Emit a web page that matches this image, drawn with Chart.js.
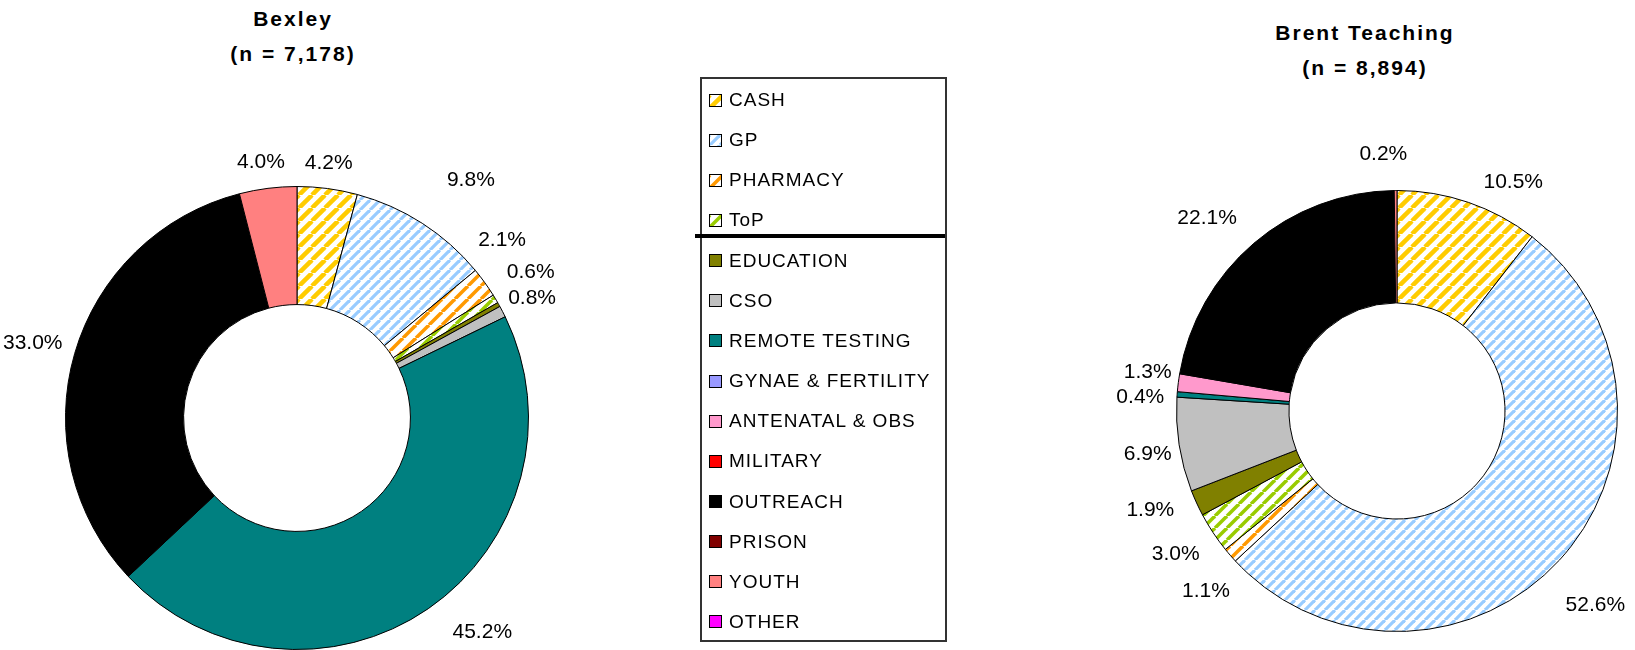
<!DOCTYPE html>
<html>
<head>
<meta charset="utf-8">
<script src="https://cdn.jsdelivr.net/npm/chart.js@4.4.1/dist/chart.umd.min.js"></script>
<style>
  body { margin: 0; background: #fff; width: 1635px; height: 650px; overflow: hidden; position: relative; font-family: "Liberation Sans", Arial, sans-serif; }
  canvas.pie { position: absolute; top: 0; }
  .title { position: absolute; font-weight: bold; font-size: 21px; letter-spacing: 2px; text-align: center; line-height: 35px; color: #000; }
  #legend { position: absolute; left: 700px; top: 77px; width: 243px; height: 561px; border: 2px solid #333; }
  #legend .item { position: absolute; left: 7px; height: 20px; display: flex; align-items: center; font-size: 19px; letter-spacing: 1px; color: #000; }
  #legend canvas { border: 1.5px solid #000; margin-right: 7px; }
  #split { position: absolute; left: 695px; top: 234px; width: 250px; height: 4px; background: #000; }
</style>
</head>
<body>
<div class="title" style="left:193px; top:1px; width:200px;">Bexley<br>(n = 7,178)</div>
<div class="title" style="left:1245px; top:15px; width:240px;">Brent Teaching<br>(n = 8,894)</div>
<canvas id="bexleyChart" class="pie" width="600" height="650" style="left:0px"></canvas>
<canvas id="brentChart" class="pie" width="600" height="650" style="left:1035px"></canvas>
<div id="legend"></div>
<div id="split"></div>
<script>
//categories (same order as legend, clockwise from 12 o'clock)
const categories = ['CASH', 'GP', 'PHARMACY', 'ToP', 'EDUCATION', 'CSO', 'REMOTE TESTING',
  'GYNAE & FERTILITY', 'ANTENATAL & OBS', 'MILITARY', 'OUTREACH', 'PRISON', 'YOUTH', 'OTHER'];

//% of tests, Bexley (n = 7,178)
const bexleyValues = [4.2, 9.8, 2.1, 0.6, 0.3, 0.8, 45.2, 0, 0, 0, 33.0, 0, 4.0, 0];
//% of tests, Brent Teaching (n = 8,894)
const brentValues = [10.5, 52.6, 1.1, 3.0, 1.9, 6.9, 0.4, 0, 1.3, 0, 22.1, 0, 0.2, 0];

//slices drawn without a label
const bexleyNoLabel = ['EDUCATION'];
const brentNoLabel = [];

//hatched fills for the first four, plain colours for the rest
function stripes(color, size, lw) {
    const c = document.createElement('canvas');
    c.width = size; c.height = size;
    const g = c.getContext('2d');
    g.fillStyle = '#fff';
    g.fillRect(0, 0, size, size);
    g.strokeStyle = color;
    g.lineWidth = lw;
    for (const o of [-size, 0, size]) {
        g.beginPath();
        g.moveTo(o, size);
        g.lineTo(o + size, 0);
        g.stroke();
    }
    return document.createElement('canvas').getContext('2d').createPattern(c, 'repeat');
}
const fills = [
    stripes('#FFCC00', 13, 4.5),
    stripes('#99CCFF', 10, 3.2),
    stripes('#FF9900', 13, 3.5),
    stripes('#99CC00', 12, 3.5),
    '#808000', '#C0C0C0', '#008080', '#9999FF', '#FF99CC', '#FF0000',
    '#000000', '#800000', '#FF8080', '#FF00FF'
];

//percentage labels outside the ring
const sliceLabels = {
    id: 'sliceLabels',
    afterDatasetsDraw(chart, args, opts) {
        const ctx = chart.ctx;
        const meta = chart.getDatasetMeta(0);
        const values = chart.data.datasets[0].data;
        ctx.save();
        ctx.font = '21px "Liberation Sans", Arial, sans-serif';
        ctx.fillStyle = '#000';
        ctx.textAlign = 'center';
        ctx.textBaseline = 'middle';
        meta.data.forEach((arc, i) => {
            const v = values[i];
            const name = chart.data.labels[i];
            if (!v || opts.skip.includes(name)) return;
            const p = arc.getProps(['x', 'y', 'startAngle', 'endAngle', 'outerRadius'], true);
            const mid = (p.startAngle + p.endAngle) / 2;
            const dx = Math.cos(mid), dy = Math.sin(mid);
            const text = v.toFixed(1) + '%';
            const w = ctx.measureText(text).width;
            const r = p.outerRadius + 16;
            const n = opts.nudge[name] || [0, 0];
            ctx.fillText(text, p.x + dx * r + dx * w / 2 + n[0], p.y + dy * r + dy * 10 + n[1]);
        });
        ctx.restore();
    }
};

function makeConfig(values, noLabel, nudge, padding) {
    return {
        type: 'doughnut',
        data: {
            labels: categories,
            datasets: [{
                data: values,
                backgroundColor: fills,
                borderColor: '#000',
                borderWidth: 1,
                borderAlign: 'center'
            }]
        },
        options: {
            responsive: false,
            animation: false,
            cutout: '49%',
            layout: { padding: padding },
            plugins: {
                legend: { display: false },
                tooltip: { enabled: false },
                sliceLabels: { skip: noLabel, nudge: nudge }
            }
        },
        plugins: [sliceLabels]
    };
}

const bexleyChart = new Chart(
    document.getElementById('bexleyChart').getContext('2d'),
    makeConfig(bexleyValues, bexleyNoLabel,
        { 'YOUTH': [-2, 0], 'CASH': [-4, 0], 'GP': [27, -21], 'PHARMACY': [-15, -27], 'ToP': [1, -13],
          'CSO': [-6, -1], 'OUTREACH': [2, -3], 'REMOTE TESTING': [28, 2] },
        { left: 65, right: 71, top: 186, bottom: 0 })
);
const brentChart = new Chart(
    document.getElementById('brentChart').getContext('2d'),
    makeConfig(brentValues, brentNoLabel,
        { 'YOUTH': [-12, -10], 'CASH': [30, 4], 'OUTREACH': [-17, -5], 'ANTENATAL & OBS': [9, -7],
          'REMOTE TESTING': [3, 5], 'CSO': [8, 5], 'EDUCATION': [-10, -4], 'ToP': [-4, 7], 'PHARMACY': [6, 19], 'GP': [2, 28] },
        { left: 141, right: 17, top: 190, bottom: 18 })
);

//legend built from the categories and fills
const legend = document.getElementById('legend');
categories.forEach((name, i) => {
    const item = document.createElement('div');
    item.className = 'item';
    item.style.top = (11 + i * 40.15) + 'px';
    const sw = document.createElement('canvas');
    sw.width = 11; sw.height = 11;
    const g = sw.getContext('2d');
    g.fillStyle = fills[i];
    g.fillRect(0, 0, 11, 11);
    item.appendChild(sw);
    item.appendChild(document.createTextNode(name));
    legend.appendChild(item);
});
</script>
</body>
</html>
